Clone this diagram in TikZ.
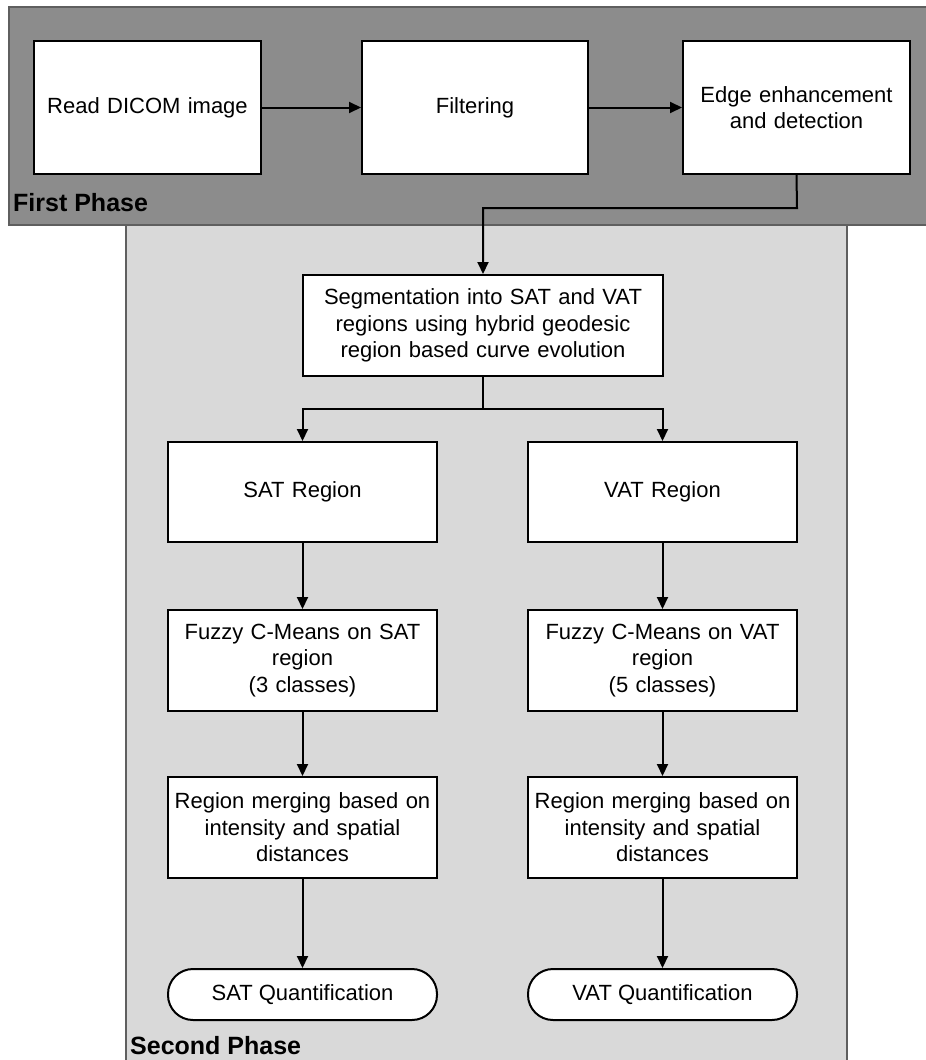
\documentclass[tikz,border=0pt]{standalone}
\usepackage{fontspec}
\setmainfont{Liberation Sans}
\usetikzlibrary{arrows.meta,calc}
\definecolor{phaseone}{RGB}{140,140,140}
\definecolor{phasetwo}{RGB}{217,217,217}
\definecolor{phaseline}{RGB}{95,95,95}
\begin{document}
\begin{tikzpicture}[x=1pt,y=-1pt,
  every node/.style={font=\fontsize{22}{26.5}\selectfont},
  procbox/.style={draw=black,line width=2pt,fill=white,inner sep=0pt,align=center,text width=#1},
  procbox/.default=220pt,
  termbox/.style={draw=black,line width=2pt,fill=white,inner sep=0pt,minimum width=269pt,minimum height=51pt,rounded corners=25pt},
  conn/.style={line width=2pt,-{Triangle[length=12pt,width=11pt]}},
  phasebox/.style={draw=phaseline,line width=1.5pt},
  phaselabel/.style={font=\fontsize{25}{30}\bfseries,anchor=west,inner sep=0pt}]
\useasboundingbox (0,0) rectangle (926,1060);
% phases
\fill[phasetwo] (126,225) rectangle (847,1075);
\draw[phasebox] (126,1075) -- (126,225) -- (847,225) -- (847,1075);
\draw[phasebox,fill=phaseone] (9,7) rectangle (940,225);
\node[phaselabel] (lab1) at (13,203) {First Phase};
\node[phaselabel] (lab2) at (130,1046) {Second Phase};
% first phase
\node[procbox=215pt,minimum width=227pt,minimum height=133pt] (read) at (147.5,107.5) {Read DICOM image};
\node[procbox=215pt,minimum width=226pt,minimum height=133pt] (filt) at (475,107.5) {Filtering};
\node[procbox=215pt,minimum width=227pt,minimum height=133pt] (edge) at (796.5,107.5) {Edge enhancement\\and detection};
% second phase
\node[procbox=350pt,minimum width=360pt,minimum height=101pt] (seg) at (483,325.5) {Segmentation into SAT and VAT\\regions using hybrid geodesic\\region based curve evolution};
\node[procbox=260pt,minimum width=269pt,minimum height=100pt] (satr) at (302.5,492) {SAT Region};
\node[procbox=260pt,minimum width=269pt,minimum height=100pt] (vatr) at (662.5,492) {VAT Region};
\node[procbox=260pt,minimum width=269pt,minimum height=101pt] (fsat) at (302.5,660.5) {Fuzzy C-Means on SAT\\region\\(3 classes)};
\node[procbox=260pt,minimum width=269pt,minimum height=101pt] (fvat) at (662.5,660.5) {Fuzzy C-Means on VAT\\region\\(5 classes)};
\node[procbox=260pt,minimum width=269pt,minimum height=101pt] (msat) at (302.5,827.5) {Region merging based on\\intensity and spatial\\distances};
\node[procbox=260pt,minimum width=269pt,minimum height=101pt] (mvat) at (662.5,827.5) {Region merging based on\\intensity and spatial\\distances};
\node[termbox] (qsat) at (302.5,994.5) {SAT Quantification};
\node[termbox] (qvat) at (662.5,994.5) {VAT Quantification};
% connectors
\draw[conn] (read) -- (filt);
\draw[conn] (filt) -- (edge);
\coordinate (bend) at (797,208);
\draw[conn] (edge.south) -- (bend) -| (seg.north);
\coordinate (split) at (483,409);
\draw[line width=2pt] (seg.south) -- (split);
\draw[conn] (split) -| (satr.north);
\draw[conn] (split) -| (vatr.north);
\draw[conn] (satr) -- (fsat);
\draw[conn] (vatr) -- (fvat);
\draw[conn] (fsat) -- (msat);
\draw[conn] (fvat) -- (mvat);
\draw[conn] (msat) -- (qsat);
\draw[conn] (mvat) -- (qvat);
\end{tikzpicture}
\end{document}
